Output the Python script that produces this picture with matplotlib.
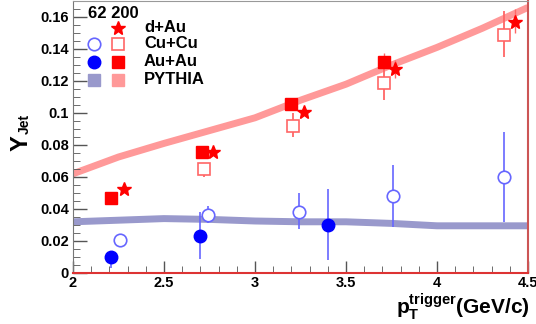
import matplotlib
matplotlib.use("Agg")
import matplotlib.pyplot as plt
from matplotlib.ticker import MultipleLocator
import numpy as np

plt.rcParams['font.family'] = ['Liberation Sans', 'DejaVu Sans']
plt.rcParams['font.weight'] = 'bold'
plt.rcParams['mathtext.fontset'] = 'custom'
plt.rcParams['mathtext.rm'] = 'Liberation Sans:bold'
plt.rcParams['mathtext.bf'] = 'Liberation Sans:bold'
plt.rcParams['mathtext.it'] = 'Liberation Sans:bold'

# PYTHIA curves
pythia200_x = [2.0, 2.25, 2.5, 2.75, 3.0, 3.25, 3.5, 3.75, 4.0, 4.25, 4.5]
pythia200_y = [0.062, 0.0725, 0.081, 0.089, 0.097, 0.108, 0.118, 0.130, 0.141, 0.153, 0.166]
pythia62_x = [2.0, 2.25, 2.5, 2.75, 3.0, 3.25, 3.5, 3.75, 4.0, 4.25, 4.5]
pythia62_y = [0.032, 0.033, 0.034, 0.0335, 0.0325, 0.032, 0.032, 0.031, 0.0295, 0.0295, 0.0295]

# d+Au 200 (stars)
dau_x = [2.28, 2.77, 3.27, 3.77, 4.43]
dau_y = [0.0525, 0.0756, 0.1006, 0.1275, 0.157]
dau_lo = [0.0, 0.0, 0.0, 0.0055, 0.007]
dau_hi = [0.0, 0.0, 0.0, 0.0055, 0.008]

# Cu+Cu 200 (open squares)
cucu200_x = [2.72, 3.21, 3.71, 4.37]
cucu200_y = [0.065, 0.092, 0.119, 0.149]
cucu200_lo = [0.005, 0.007, 0.011, 0.014]
cucu200_hi = [0.003, 0.008, 0.010, 0.015]

# Au+Au 200 (filled squares)
auau200_x = [2.21, 2.71, 3.20, 3.71]
auau200_y = [0.047, 0.0756, 0.1056, 0.132]
auau200_lo = [0.0, 0.0, 0.0, 0.0]
auau200_hi = [0.0, 0.0, 0.0, 0.0055]

# Cu+Cu 62 (open circles)
cucu62_x = [2.26, 2.74, 3.24, 3.76, 4.37]
cucu62_y = [0.0206, 0.036, 0.038, 0.048, 0.060]
cucu62_lo = [0.0, 0.005, 0.0105, 0.019, 0.028]
cucu62_hi = [0.0, 0.006, 0.012, 0.0195, 0.028]

# Au+Au 62 (filled circles)
auau62_x = [2.21, 2.70, 3.40]
auau62_y = [0.0100, 0.023, 0.030]
auau62_lo = [0.007, 0.0142, 0.022]
auau62_hi = [0.0, 0.015, 0.0225]

xticks = [2, 2.5, 3, 3.5, 4, 4.5]
xticklabels = ['2', '2.5', '3', '3.5', '4', '4.5']
yticks = [0, 0.02, 0.04, 0.06, 0.08, 0.1, 0.12, 0.14, 0.16]
yticklabels = ['0', '0.02', '0.04', '0.06', '0.08', '0.1', '0.12', '0.14', '0.16']

fig = plt.figure(figsize=(5.36, 3.24), dpi=100)
ax = fig.add_axes([73/536, 1 - 273/324, (528-73)/536, (273-1)/324])
ax.set_xlim(2, 4.5)
ax.set_ylim(0, 0.17)

red = '#ff0000'
lred = '#ff6666'
blue = '#0000ff'
lblue = '#6666ff'

ax.plot(pythia200_x, pythia200_y, color='#ff9999', lw=5, solid_capstyle='butt', zorder=1)
ax.plot(pythia62_x, pythia62_y, color='#9999cc', lw=5, solid_capstyle='butt', zorder=1)

ax.errorbar(dau_x, dau_y, yerr=[dau_lo, dau_hi], fmt='*', color=red, ms=10,
            ecolor=lred, elinewidth=1, capsize=0, zorder=3)
ax.errorbar(cucu200_x, cucu200_y, yerr=[cucu200_lo, cucu200_hi], fmt='s', mfc='white',
            mec=lred, ms=8.5, ecolor=lred, elinewidth=1.3, capsize=0, mew=1.2, zorder=3)
ax.errorbar(auau200_x, auau200_y, yerr=[auau200_lo, auau200_hi], fmt='s', color=red, ms=8.5,
            ecolor=lred, elinewidth=1, capsize=0, zorder=3)
ax.errorbar(cucu62_x, cucu62_y, yerr=[cucu62_lo, cucu62_hi], fmt='o', mfc='white',
            mec=lblue, ms=9, ecolor=lblue, elinewidth=1.2, capsize=0, mew=1.2, zorder=3)
ax.errorbar(auau62_x, auau62_y, yerr=[auau62_lo, auau62_hi], fmt='o', color=blue, ms=9,
            ecolor=lblue, elinewidth=1.2, capsize=0, zorder=3)

ax.set_xticks(xticks)
ax.set_xticklabels(xticklabels)
ax.set_yticks(yticks)
ax.set_yticklabels(yticklabels)
ax.xaxis.set_minor_locator(MultipleLocator(0.1))
ax.yaxis.set_minor_locator(MultipleLocator(0.005))
ax.tick_params(axis='both', which='major', direction='in', labelsize=10.5, width=1, color='#555555')
ax.tick_params(axis='y', which='major', length=10, pad=3)
ax.tick_params(axis='x', which='major', length=9, pad=2)
ax.tick_params(axis='both', which='minor', direction='in', length=5, color='#555555')
for lab in ax.get_xticklabels() + ax.get_yticklabels():
    lab.set_fontweight('bold')

ax.spines['bottom'].set_color('#dd3333')
ax.spines['bottom'].set_linewidth(1.5)
ax.spines['right'].set_color('#cc5555')
ax.spines['right'].set_linewidth(1.5)
ax.spines['left'].set_color('#777777')
ax.spines['top'].set_color('#999999')

# Legend (ROOT-style)
fig.text(88/536, 1 - 14/324, '62 200', fontsize=12, fontweight='bold', va='center', ha='left')
col62 = 94/536
col200 = 118/536
rows = [28, 44, 62, 80]
labels = ['d+Au', 'Cu+Cu', 'Au+Au', 'PYTHIA']
def fm(x, y, **kw):
    ax.plot([x], [y], transform=fig.transFigure, clip_on=False, **kw)
fm(col200, 1 - rows[0]/324, marker='*', color=red, ms=10, ls='none')
fm(col62, 1 - rows[1]/324, marker='o', mfc='white', mec=lblue, ms=9, mew=1.2, ls='none')
fm(col200, 1 - rows[1]/324, marker='s', mfc='white', mec=lred, ms=8.5, mew=1.2, ls='none')
fm(col62, 1 - rows[2]/324, marker='o', color=blue, ms=9, ls='none')
fm(col200, 1 - rows[2]/324, marker='s', color=red, ms=8.5, ls='none')
fm(col62, 1 - rows[3]/324, marker='s', color='#9999cc', ms=8, ls='none')
fm(col200, 1 - rows[3]/324, marker='s', color='#ff9999', ms=8, ls='none')
for r, l in zip(rows, labels):
    fig.text(144/536, 1 - r/324, l, fontsize=12, fontweight='bold', va='center', ha='left')

# Axis titles
fig.text(21/536, 1 - 143/324, 'Y', fontsize=17, fontweight='bold', rotation=90,
         va='center', ha='center')
fig.text(25/536, 1 - 124/324, 'Jet', fontsize=10, fontweight='bold', rotation=90,
         va='center', ha='center')
fig.text(530/536, 1 - 307/324, r'$\mathbf{p}_{\mathbf{T}}^{\mathbf{trigger}}$' + '(GeV/c)',
         fontsize=15, fontweight='bold', va='center', ha='right')

fig.savefig('out.png', dpi=100)
